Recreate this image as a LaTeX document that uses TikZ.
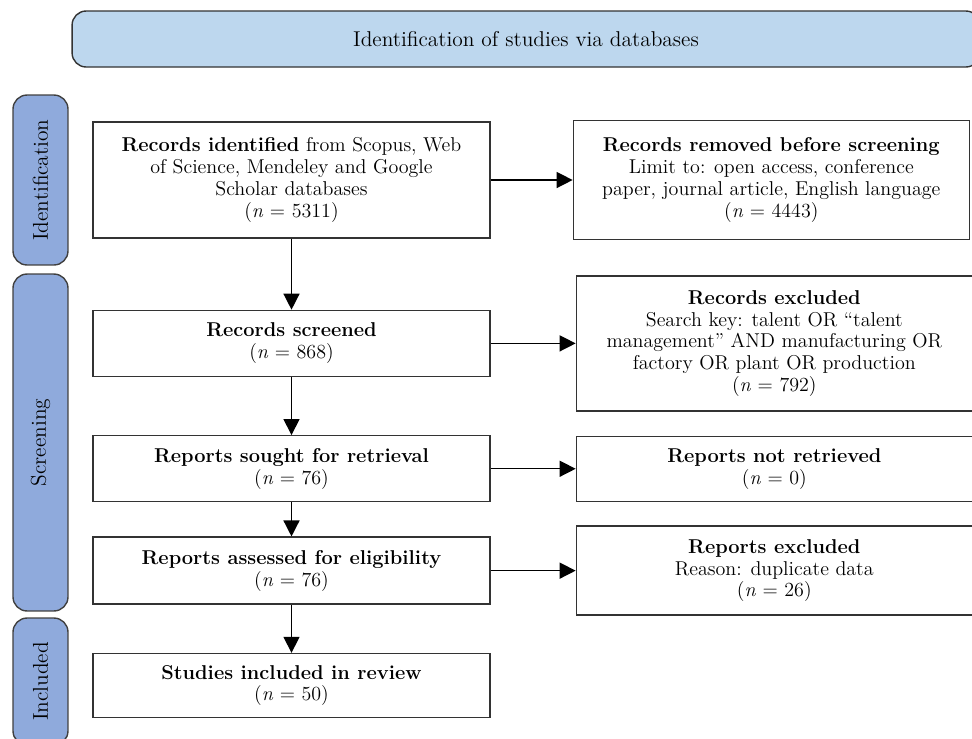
\documentclass[tikz,border=0pt]{standalone}
\usepackage{tikz}
\usetikzlibrary{positioning,arrows.meta}
\definecolor{bannerblue}{HTML}{BDD7EE}
\definecolor{sideblue}{HTML}{8FAADC}

\begin{document}
\begin{tikzpicture}[
  x=0.02cm, y=-0.02cm,
  node distance=14mm,
  txt/.style={font=\fontsize{11.4}{12.4}\selectfont},
  box/.style={draw=black!80, line width=0.8pt, align=center, txt, minimum width=79.4mm, inner sep=4pt},
  rbox/.style={box, minimum width=79.2mm},
  side/.style={draw=black!75, line width=0.8pt, fill=sideblue, rounded corners=8pt, rotate=90, font=\fontsize{12.2}{14}\selectfont, minimum height=11mm, inner sep=0pt},
  banner/.style={draw=black!80, line width=0.8pt, fill=bannerblue, rounded corners=8pt, font=\fontsize{12.2}{14}\selectfont, minimum width=181.6mm, minimum height=11.2mm},
  arr/.style={-{Triangle[length=3.2mm, width=3.2mm]}, line width=0.8pt}
]
\clip (0,0) rectangle (972,738);
\node[banner] (head) at (526,39) {Identification of studies via databases};

\node[side, minimum width=34mm] (lident) at (40.5,180) {Identification};
\node[side, minimum width=67.4mm] (lscreen) at (40.5,442.5) {Screening};
\node[side, minimum width=25.4mm] (lincl) at (40.5,681.5) {Included};

\node[box, minimum height=23.2mm] (ident) at (291.5,180) {\textbf{Records identified} from Scopus, Web\\of Science, Mendeley and Google\\Scholar databases\\(\textit{n} = 5311)};
\node[box, minimum height=13.2mm, below=14.2mm of ident] (screen) {\textbf{Records screened}\\(\textit{n} = 868)};
\node[box, minimum height=13.2mm, below=11.6mm of screen] (sought) {\textbf{Reports sought for retrieval}\\(\textit{n} = 76)};
\node[box, minimum height=13.4mm, below=6.8mm of sought] (assess) {\textbf{Reports assessed for eligibility}\\(\textit{n} = 76)};
\node[box, minimum height=12.8mm, below=9.6mm of assess] (incl) {\textbf{Studies included in review}\\(\textit{n} = 50)};

\node[rbox, minimum height=23.8mm, right=16.4mm of ident] (removed) {\textbf{Records removed before screening}\\Limit to: open access, conference\\paper, journal article, English language\\(\textit{n} = 4443)};
\node[rbox, minimum height=27mm, right=17mm of screen] (excl) {\textbf{Records excluded}\\Search key: talent OR ``talent\\management'' AND manufacturing OR\\factory OR plant OR production\\(\textit{n} = 792)};
\node[rbox, minimum height=13mm, right=17mm of sought] (notret) {\textbf{Reports not retrieved}\\(\textit{n} = 0)};
\node[rbox, minimum height=17.8mm, right=17mm of assess] (repexcl) {\textbf{Reports excluded}\\Reason: duplicate data\\(\textit{n} = 26)};

\draw[arr] (ident) -- (screen);
\draw[arr] (screen) -- (sought);
\draw[arr] (sought) -- (assess);
\draw[arr] (assess) -- (incl);
\draw[arr] (ident) -- (removed);
\draw[arr] (screen) -- (excl);
\draw[arr] (sought) -- (notret);
\draw[arr] (assess) -- (repexcl);
\end{tikzpicture}
\end{document}
